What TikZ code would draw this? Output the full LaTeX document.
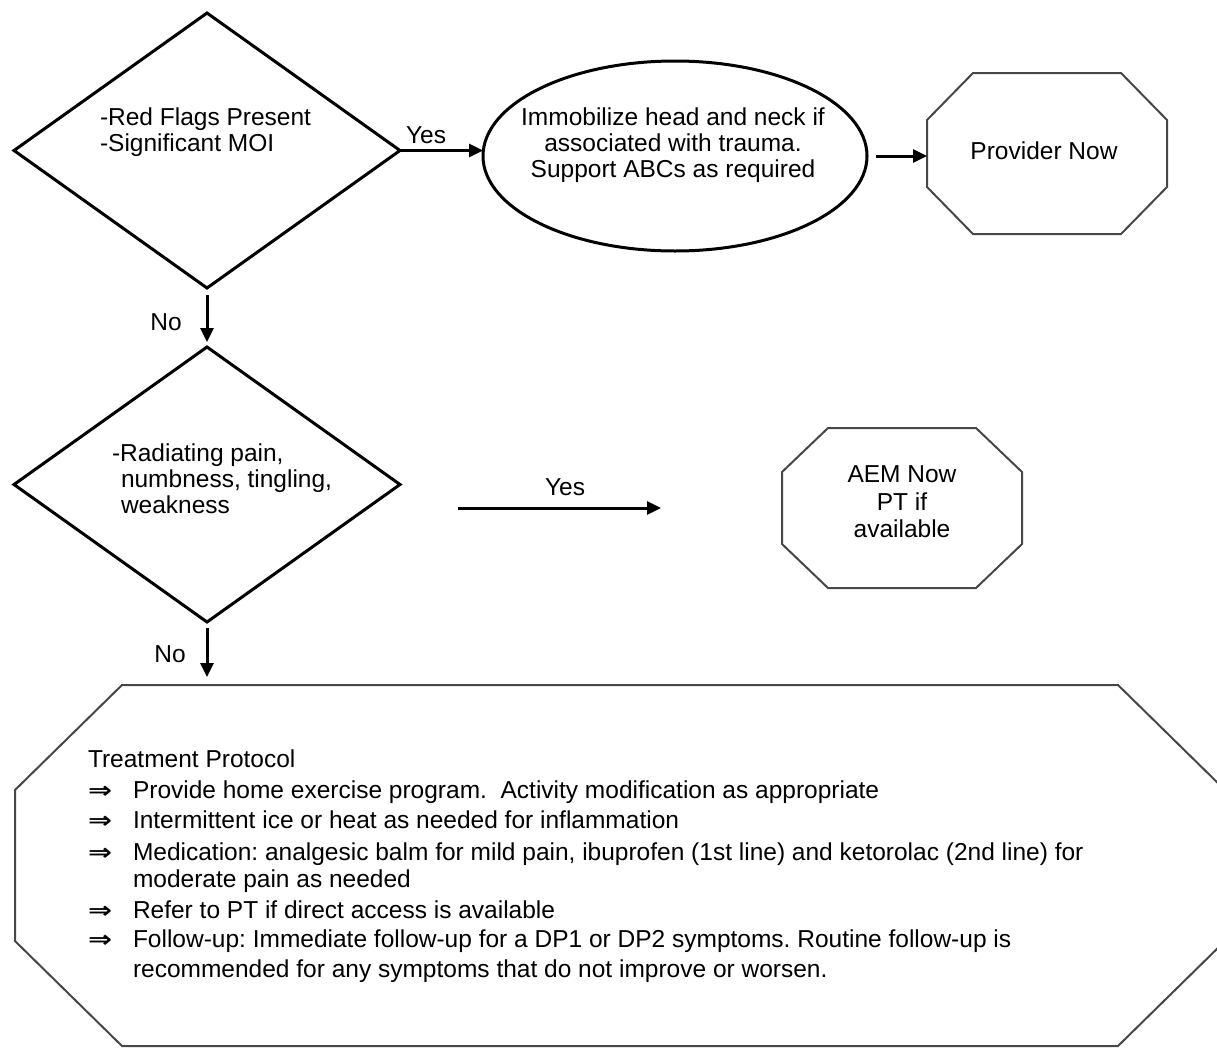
\documentclass[tikz,border=0pt]{standalone}
\usepackage{fontspec}
\setmainfont{Liberation Sans}
\newfontfamily\arrowglyphs{DejaVu Sans}
\usetikzlibrary{shapes.geometric,arrows.meta,calc}

\newcommand\flowfont{\fontsize{24.5pt}{28pt}\selectfont}
\newcommand\impliesmark{\scalebox{1.3}[1.05]{\bfseries ⇒}}

\begin{document}
\frenchspacing
\begin{tikzpicture}[x=1pt,y=-1pt,
  decision/.style={diamond, draw=black, line width=3pt, inner sep=0pt, outer sep=0pt},
  oval/.style={ellipse, draw=black, line width=3pt, inner sep=0pt, outer sep=0pt},
  octo/.style={rectangle, inner sep=0pt, outer sep=0pt, font=\flowfont},
  octline/.style={draw=black!72, line width=2pt, line join=miter},
  txt/.style={inner sep=0pt, outer sep=0pt, font=\flowfont},
  bulletmark/.style={inner sep=0pt, outer sep=0pt, font=\arrowglyphs\fontsize{22pt}{28pt}\selectfont},
  flow/.style={line width=3pt, -{Triangle[length=14pt,width=13pt]}}
]
\useasboundingbox (0,0) rectangle (1217,1047);

% ---------- first decision ----------
\node[decision, minimum width=386pt, minimum height=275pt] (flags) at (207,150.5) {};
\node[txt, anchor=base west] (flagsA) at (100,125) {-Red Flags Present};
\node[txt, anchor=base west] (flagsB) at (100,151) {-Significant MOI};

% ---------- immobilisation oval ----------
\node[oval, minimum width=384pt, minimum height=190pt] (immob) at (675,156) {};
\node[txt, anchor=base] (immobA) at (673,125) {Immobilize head and neck if};
\node[txt, anchor=base] (immobB) at (673,151) {associated with trauma.};
\node[txt, anchor=base] (immobC) at (673,177) {Support ABCs as required};

% ---------- provider octagon ----------
\node[octo, minimum width=240pt, minimum height=161pt] (prov) at (1047,153.5) {};
\draw[octline] ([xshift=46pt]prov.north west) -- ([xshift=-46pt]prov.north east)
  -- ([yshift=-47pt]prov.north east) -- ([yshift=47pt]prov.south east)
  -- ([xshift=-46pt]prov.south east) -- ([xshift=46pt]prov.south west)
  -- ([yshift=47pt]prov.south west) -- ([yshift=-47pt]prov.north west) -- cycle;
\node[txt, anchor=base] (provT) at (1044,159) {Provider Now};

% ---------- second decision ----------
\node[decision, minimum width=386pt, minimum height=275pt] (radiate) at (207,484.5) {};
\node[txt, anchor=base west] (radA) at (112,461) {-Radiating pain,};
\node[txt, anchor=base west] (radB) at (121,487) {numbness, tingling,};
\node[txt, anchor=base west] (radC) at (121,513) {weakness};

% ---------- AEM octagon ----------
\node[octo, minimum width=240pt, minimum height=160pt] (aem) at (902,508) {};
\draw[octline] ([xshift=46pt]aem.north west) -- ([xshift=-46pt]aem.north east)
  -- ([yshift=-44pt]aem.north east) -- ([yshift=44pt]aem.south east)
  -- ([xshift=-46pt]aem.south east) -- ([xshift=46pt]aem.south west)
  -- ([yshift=44pt]aem.south west) -- ([yshift=-44pt]aem.north west) -- cycle;
\node[txt, anchor=base] (aemA) at (902,482) {AEM Now};
\node[txt, anchor=base] (aemB) at (902,510) {PT if};
\node[txt, anchor=base] (aemC) at (902,537) {available};

% ---------- treatment octagon ----------
\node[octo, minimum width=1210pt, minimum height=361pt] (treat) at (620,865.5) {};
\draw[octline] ([xshift=107pt]treat.north west) -- ([xshift=-107pt]treat.north east)
  -- ([yshift=-105pt]treat.north east) -- ([yshift=105pt]treat.south east)
  -- ([xshift=-107pt]treat.south east) -- ([xshift=107pt]treat.south west)
  -- ([yshift=105pt]treat.south west) -- ([yshift=-105pt]treat.north west) -- cycle;
\node[txt, anchor=base west] (tHead) at (88,767) {Treatment Protocol};
\foreach \y [count=\i] in {798,828,860,918,947}
  \node[bulletmark, anchor=base west] (tMark\i) at (88,\y) {\impliesmark};
\node[txt, anchor=base west] (tOne)   at (133,798) {Provide home exercise program.\ \ Activity modification as appropriate};
\node[txt, anchor=base west] (tTwo)   at (133,828) {Intermittent ice or heat as needed for inflammation};
\node[txt, anchor=base west] (tThree) at (133,860) {Medication: analgesic balm for mild pain, ibuprofen (1st line) and ketorolac (2nd line) for};
\node[txt, anchor=base west] (tThreeB) at (133,887) {moderate pain as needed};
\node[txt, anchor=base west] (tFour)  at (133,918) {Refer to PT if direct access is available};
\node[txt, anchor=base west] (tFive)  at (133,947) {Follow-up: Immediate follow-up for a DP1 or DP2 symptoms. Routine follow-up is};
\node[txt, anchor=base west] (tFiveB) at (133,977) {recommended for any symptoms that do not improve or worsen.};

% ---------- connectors ----------
\draw[flow] (flags.east) -- (flags.east -| immob.west);
\node[txt, anchor=base] (yesA) at (426,143) {Yes};
\draw[flow, shorten <=9pt] (immob.east) -- (immob.east -| prov.west);
\draw[flow, shorten <=7pt, shorten >=5pt] (flags.south) -- (flags.south |- radiate.north);
\node[txt, anchor=base] (noA) at (166,330) {No};
\draw[flow, shorten <=58pt, shorten >=121pt] (radiate.east |- aem.west) -- (aem.west);
\node[txt, anchor=base] (yesB) at (565,495) {Yes};
\draw[flow, shorten <=6pt, shorten >=8pt] (radiate.south) -- (radiate.south |- treat.north);
\node[txt, anchor=base] (noB) at (170,662) {No};
\end{tikzpicture}
\end{document}
